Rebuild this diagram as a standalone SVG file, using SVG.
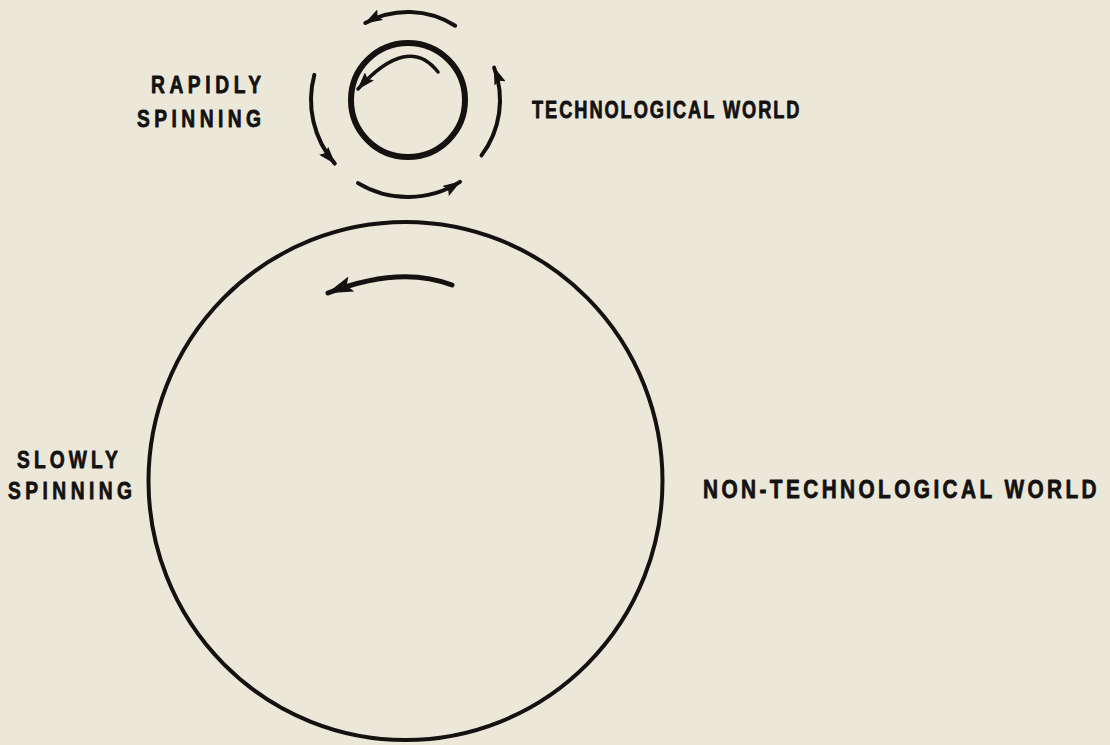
<svg xmlns="http://www.w3.org/2000/svg" width="1110" height="745" viewBox="0 0 1110 745">
  <style>
    .lbl { font-family: "Liberation Sans", Arial, sans-serif; font-weight: bold; font-size: 24px; fill: #141111; stroke: #141111; stroke-width: 0.8; stroke-linejoin: round; }
    .big { font-size: 26px; }
    .arc { fill: none; stroke: #141111; stroke-linecap: round; }
  </style>
  <defs>
    <marker id="head" viewBox="0 0 18 12" refX="17" refY="6" markerWidth="18" markerHeight="12" markerUnits="userSpaceOnUse" orient="auto">
      <path d="M0,0 L18,6 L0,12 L3,6 z" fill="#141111"/>
    </marker>
    <marker id="headBig" viewBox="0 0 26 16" refX="25" refY="8" markerWidth="26" markerHeight="16" markerUnits="userSpaceOnUse" orient="auto">
      <path d="M0,0 L26,8 L0,16 L5,8 z" fill="#141111"/>
    </marker>
  </defs>
  <rect width="1110" height="745" fill="#ebe8da"/>

  <g id="technological-world">
    <circle cx="408" cy="100" r="57" fill="none" stroke="#141111" stroke-width="6"/>
    <text class="lbl" transform="translate(532,118) scale(0.76,1)" textLength="352" lengthAdjust="spacing">TECHNOLOGICAL WORLD</text>
  </g>

  <g id="rapidly-spinning">
    <text class="lbl" transform="translate(151,93) scale(0.8,1)" textLength="137.5" lengthAdjust="spacing">RAPIDLY</text>
    <text class="lbl" transform="translate(137,127) scale(0.8,1)" textLength="155" lengthAdjust="spacing">SPINNING</text>
  </g>

  <g id="non-technological-world">
    <ellipse cx="405.5" cy="481" rx="257" ry="259" fill="none" stroke="#141111" stroke-width="4"/>
    <text class="lbl big" transform="translate(703,498) scale(0.8,1)" textLength="492" lengthAdjust="spacing">NON-TECHNOLOGICAL WORLD</text>
  </g>

  <g id="slowly-spinning">
    <text class="lbl" transform="translate(17,468) scale(0.8,1)" textLength="126" lengthAdjust="spacing">SLOWLY</text>
    <text class="lbl" transform="translate(8,499) scale(0.8,1)" textLength="155" lengthAdjust="spacing">SPINNING</text>
  </g>

  <g id="connectors">
    <path class="arc" stroke-width="4" marker-end="url(#head)" d="M455.2,25.7 A88,88 0 0,0 365.3,23.0"/>
    <path class="arc" stroke-width="4" marker-end="url(#head)" d="M481.5,155.4 A92,92 0 0,0 494.1,67.6"/>
    <path class="arc" stroke-width="4" marker-end="url(#head)" d="M358,183.1 A97,97 0 0,0 460,181.9"/>
    <path class="arc" stroke-width="4" marker-end="url(#head)" d="M314.3,74.9 A97,97 0 0,0 334.8,163.6"/>
    <path class="arc" stroke-width="3.5" marker-end="url(#head)" d="M438,72 Q408,33.5 358,89"/>
    <path class="arc" stroke-width="5" marker-end="url(#headBig)" d="M452,285 Q400,265 328,293"/>
  </g>
</svg>
